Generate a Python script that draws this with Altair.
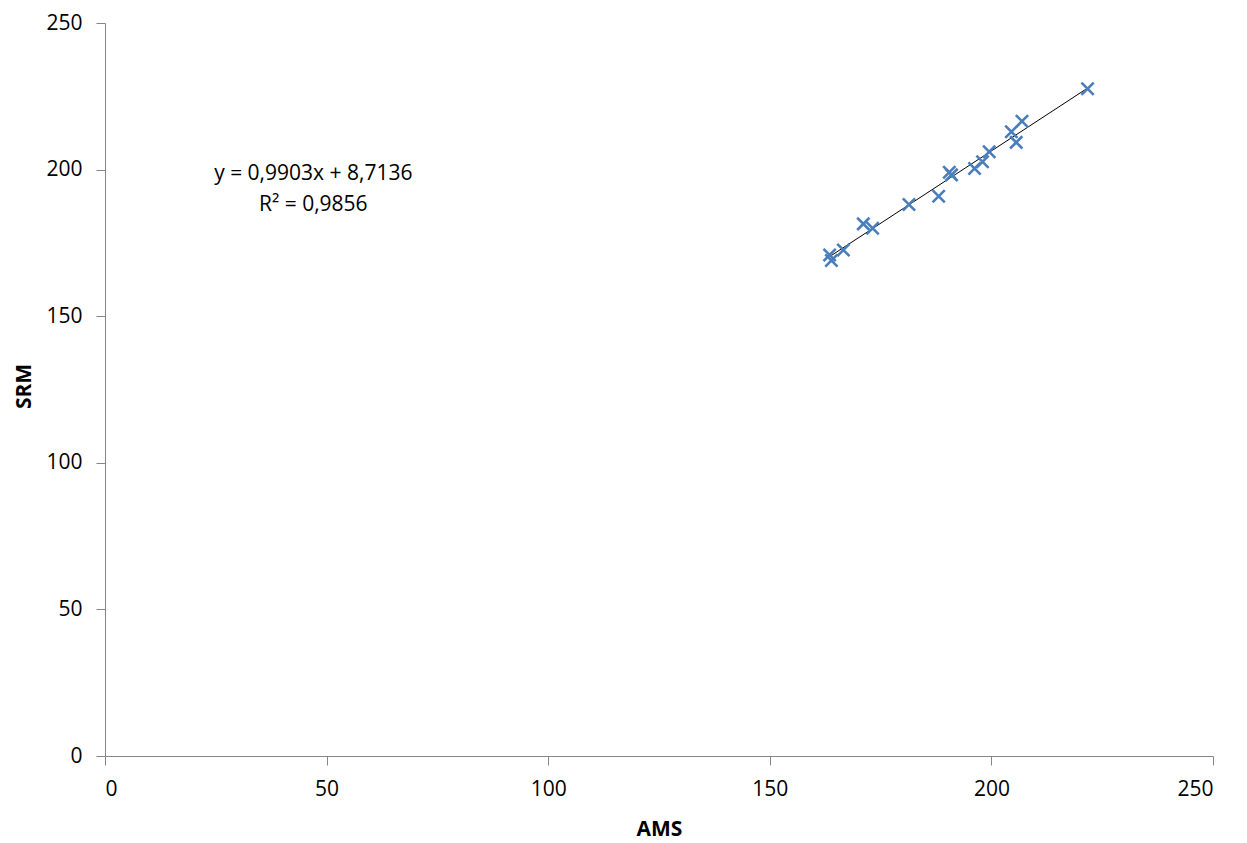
import altair as alt
import pandas as pd

ams = [163.5, 163.9, 166.6, 171.1, 173.2, 181.4, 188.1, 190.5, 191.0, 196.2,
       198.0, 199.5, 204.5, 205.6, 206.9, 221.7]
srm = [170.9, 169.0, 172.6, 181.5, 180.0, 188.1, 190.9, 199.1, 198.2, 200.4,
       202.7, 206.1, 212.9, 209.3, 216.5, 227.6]
eq_lines = ["y = 0,9903x + 8,7136", "R² = 0,9856"]
eq_x = [47, 47]
eq_y = [198.4, 187.9]

df = pd.DataFrame({"AMS": ams, "SRM": srm})
eq = pd.DataFrame({"t": eq_lines, "x": eq_x, "y": eq_y})

FONT = "Open Sans"
AX = "#868686"

xscale = alt.Scale(domain=[0, 250], nice=False)
yscale = alt.Scale(domain=[0, 250], nice=False)

xaxis = alt.Axis(values=[0, 50, 100, 150, 200, 250], grid=False, domainColor=AX,
                 tickColor=AX, tickSize=9, labelFont=FONT, labelFontSize=21,
                 labelColor="#000", labelPadding=13, titleFont=FONT,
                 titleFontSize=21, titleFontWeight="bold", titleColor="#000",
                 titleY=73, titleBaseline="middle")
yaxis = alt.Axis(values=[0, 50, 100, 150, 200, 250], grid=False, domainColor=AX,
                 tickColor=AX, tickSize=9, labelFont=FONT, labelFontSize=21,
                 labelColor="#000", labelPadding=14, titleFont=FONT,
                 titleFontSize=21, titleFontWeight="bold", titleColor="#000",
                 titleX=-81, titleY=363, titleBaseline="middle", titleAlign="center")

base = alt.Chart(df)

pts = base.mark_point(
    shape="M-1,-1L1,1M-1,1L1,-1", filled=False, strokeWidth=2.6,
    color="#4a7ebb", size=150, opacity=1
).encode(
    x=alt.X("AMS:Q", scale=xscale, axis=xaxis, title="AMS"),
    y=alt.Y("SRM:Q", scale=yscale, axis=yaxis, title="SRM"),
)

line = base.transform_regression("AMS", "SRM").mark_line(
    color="#000", strokeWidth=1
).encode(x=alt.X("AMS:Q", scale=xscale), y=alt.Y("SRM:Q", scale=yscale))

txt = alt.Chart(eq).mark_text(font=FONT, fontSize=21, color="#000",
                              align="center", baseline="middle").encode(
    x=alt.X("x:Q", scale=xscale), y=alt.Y("y:Q", scale=yscale), text="t:N")

chart = alt.layer(line, pts, txt).properties(
    width=1108, height=733,
    autosize=alt.AutoSizeParams(type="none"),
    padding={"left": 97, "top": 15, "right": 26, "bottom": 86},
).configure_view(stroke=None)

chart.save("out.html", embed_options={"renderer": "svg", "actions": False})
